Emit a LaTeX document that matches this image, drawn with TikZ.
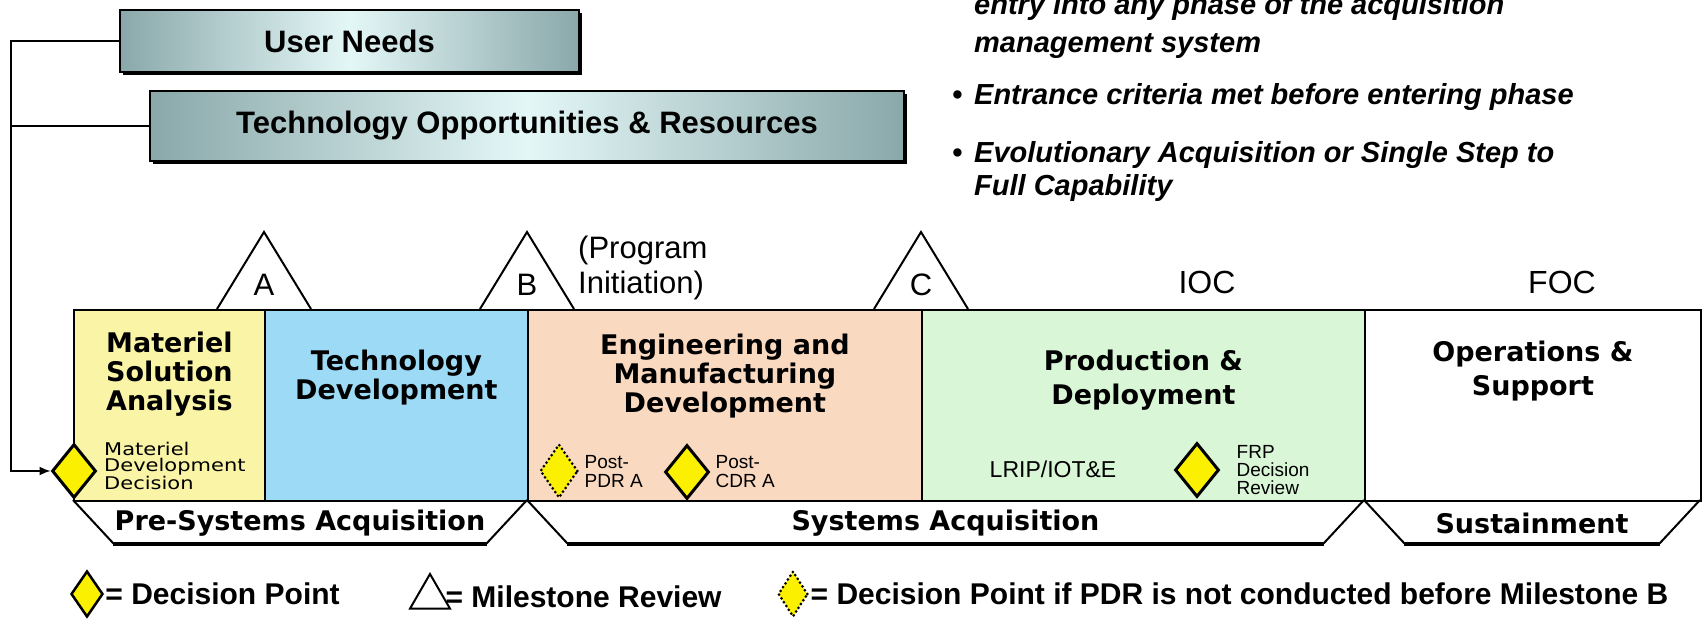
\documentclass[tikz,border=0pt]{standalone}
\usepackage{fontspec}
\setmainfont{Liberation Sans}
\newfontfamily\verd{DejaVu Sans}
\newfontfamily\verdwide[FakeStretch=1.2]{DejaVu Sans}
\usetikzlibrary{positioning,shapes.geometric,shadows,arrows.meta}

\definecolor{boxteal}{RGB}{138,168,170}
\definecolor{boxglow}{RGB}{228,247,247}
\definecolor{msafill}{RGB}{250,245,166}
\definecolor{tdfill}{RGB}{156,218,246}
\definecolor{emdfill}{RGB}{250,217,193}
\definecolor{pdfill}{RGB}{217,246,215}
\definecolor{dpyellow}{RGB}{250,240,0}

\begin{document}
\begin{tikzpicture}[x=1pt,y=-1pt,
    inputbox/.style={draw, line width=2pt, left color=boxteal, right color=boxteal, middle color=boxglow,
        drop shadow={shadow xshift=3pt, shadow yshift=-3pt, fill=black, opacity=1},
        font=\fontsize{31}{31}\selectfont\bfseries, anchor=north west, inner sep=0pt},
    phase/.style={draw, line width=1.8pt, anchor=north west, minimum height=191, inner sep=0pt},
    title/.style={font=\verd\fontsize{27}{29}\selectfont\bfseries, align=center, inner sep=0pt},
    small/.style={font=\fontsize{19}{19}\selectfont, align=left, inner sep=0pt},
    decision/.style={diamond, draw, line width=3pt, fill=dpyellow, minimum width=44, minimum height=54, inner sep=0pt},
    maybe/.style={decision, line width=3pt, dash pattern=on 0pt off 4.5pt, line cap=round, minimum width=38},
    milestone/.style={draw, line width=2pt, fill=white},
    era/.style={draw, line width=2pt},
    eratext/.style={font=\verd\fontsize{27}{27}\selectfont\bfseries, inner sep=0pt},
    note/.style={font=\fontsize{29}{33}\selectfont\bfseries\itshape, align=left, anchor=base west, inner sep=0pt},
    legend/.style={font=\fontsize{30}{30}\selectfont\bfseries, inner sep=0pt, anchor=west}
  ]
  \useasboundingbox (0,0) rectangle (1703,620);

  % Inputs
  \node[inputbox, minimum width=459, minimum height=62] (un) at (119,9) {User Needs};
  \node[inputbox, minimum width=754, minimum height=70] (tor) at (149,90) {Technology Opportunities \& Resources};

  % Notes
  \node[note, font=\fontsize{29}{38}\selectfont\bfseries\itshape] (n1) at (974,53) {entry into any phase of the acquisition\\management system};
  \node[note] (n2) at (974,105) {\llap{•\hspace{12pt}}Entrance criteria met before entering phase};
  \node[note] (n3) at (974,196) {\llap{•\hspace{12pt}}Evolutionary Acquisition or Single Step to\\Full Capability};

  % Phases
  \foreach \n/\x/\w/\c in {msa/73/191/msafill, td/264/263/tdfill, emd/527/394/emdfill, pd/921/443/pdfill, os/1364/336/white}
    \node[phase, fill=\c, minimum width=\w] (\n) at (\x,309) {};

  \node[title, below=23pt of msa.north] (msat) {Materiel\\Solution\\Analysis};
  \node[title, below=41pt of td.north] (tdt) {Technology\\Development};
  \node[title, below=25pt of emd.north] (emdt) {Engineering and\\Manufacturing\\Development};
  \node[title, below=41pt of pd.north] (pdt) {Production \&\\[5pt]Deployment};
  \node[title, below=32pt of os.north] (ost) {Operations \&\\[5pt]Support};

  % Milestones
  \foreach \m/\x in {A/264, B/527, C/921} {
    \draw[milestone] (\x-47,309) -- (\x,232) -- (\x+47,309);
    \node[font=\fontsize{31}{31}\selectfont, inner sep=0pt] (ms\m) at (\x,285) {\m};
  }
  \node[font=\fontsize{31}{35}\selectfont, align=left, inner sep=0pt, anchor=west] (init) at (578,268) {(Program\\Initiation)};
  \node[font=\fontsize{32}{32}\selectfont, inner sep=0pt] (ioc) at (1207,282) {IOC};
  \node[font=\fontsize{32}{32}\selectfont, inner sep=0pt] (foc) at (1562,282) {FOC};

  % Decision points
  \node[decision] (mdd) at (74,471) {};
  \node[small, font=\verdwide\fontsize{17.5}{16.5}\selectfont, anchor=north west] (mddt) at (104,442) {Materiel\\Development\\Decision};
  \node[maybe] (pdr) at (559,471) {};
  \node[small, right=5pt of pdr] (pdrt) {Post-\\PDR A};
  \node[decision] (cdr) at (687,472) {};
  \node[small, right=5pt of cdr] (cdrt) {Post-\\CDR A};
  \node[font=\fontsize{23}{23}\selectfont, inner sep=0pt] (lrip) at (1053,469) {LRIP/IOT\&E};
  \node[decision] (frp) at (1197,470) {};
  \node[small, font=\fontsize{19}{18}\selectfont, right=16pt of frp] (frpt) {FRP\\Decision\\Review};

  % Acquisition eras
  \foreach \n/\l/\r/\t in {pre/73/527/Pre-Systems Acquisition, sys/527/1364/Systems Acquisition, sus/1364/1700/Sustainment} {
    \draw[era] (\l,500) -- (\l+40,543) -- (\r-40,543) -- (\r,500);
    \draw[line width=4pt] (\l+40,544) -- (\r-40,544);
    \node[eratext] (\n) at ({(\l+\r)/2},523) {\t};
  }

  % Connect inputs
  \coordinate (rail) at (11,0);
  \draw[line width=1.6pt] (tor.west) -- (tor.west -| rail);
  \draw[line width=1.6pt, -{Latex[length=11pt,width=9pt]}] (un.west) -- (un.west -| rail) |- (mdd.west);

  % Legend
  \node[decision, minimum width=32, minimum height=46, line width=2.5pt] (lg1) at (87,594) {};
  \node[legend, right=1pt of lg1] (lg1t) {= Decision Point};
  \node[draw, line width=2pt, regular polygon, regular polygon sides=3, minimum size=46, inner sep=0pt] (lg2) at (430,597) {};
  \node[legend, right=1pt of lg2] (lg2t) {= Milestone Review};
  \node[maybe, minimum width=30, minimum height=46] (lg3) at (793,594) {};
  \node[legend, right=1pt of lg3] (lg3t) {= Decision Point if PDR is not conducted before Milestone B};
\end{tikzpicture}
\end{document}
